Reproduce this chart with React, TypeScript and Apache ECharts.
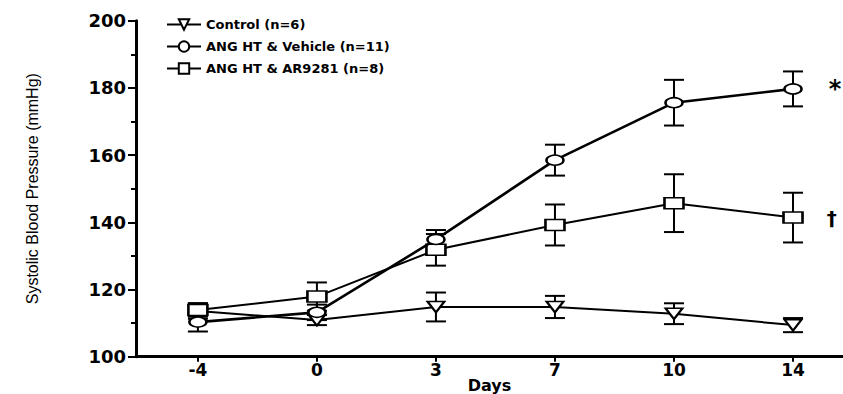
import React, { useEffect, useRef } from "react";
import * as echarts from "echarts";

const categories = ["-4", "0", "3", "7", "10", "14"];
const seriesNames = ["Control (n=6)", "ANG HT & Vehicle (n=11)", "ANG HT & AR9281 (n=8)"];
const controlMean = [113.6, 110.9, 114.8, 114.8, 112.8, 109.4];
const controlSem = [2.3, 1.5, 4.3, 3.3, 3.1, 2.1];
const vehicleMean = [110.3, 113.2, 134.9, 158.5, 175.6, 179.7];
const vehicleSem = [2.8, 2.3, 2.8, 4.6, 6.8, 5.2];
const ar9281Mean = [113.9, 117.9, 131.8, 139.2, 145.7, 141.4];
const ar9281Sem = [2.0, 4.2, 4.7, 6.1, 8.6, 7.4];
const markers = ["*", "", "†"];
const yTicks = { min: 100, max: 200, interval: 20 };

const BLACK = "#000";

function errorSeries(mean: number[], sem: number[]) {
  return {
    type: "custom",
    silent: true,
    z: 1,
    renderItem: (params: any, api: any) => {
      const x = api.value(0);
      const lo = api.value(1);
      const hi = api.value(2);
      const top = api.coord([x, hi]);
      const bot = api.coord([x, lo]);
      const hw = 10;
      const style = { stroke: BLACK, lineWidth: 2 };
      return {
        type: "group",
        children: [
          { type: "line", shape: { x1: top[0], y1: top[1], x2: bot[0], y2: bot[1] }, style },
          { type: "line", shape: { x1: top[0] - hw, y1: top[1], x2: top[0] + hw, y2: top[1] }, style },
          { type: "line", shape: { x1: bot[0] - hw, y1: bot[1], x2: bot[0] + hw, y2: bot[1] }, style },
        ],
      };
    },
    encode: { x: 0, y: [1, 2] },
    data: mean.map((m, i) => [i, m - sem[i], m + sem[i]]),
  };
}

function lineData(mean: number[], mark: string, fontSize: number, distance: number) {
  return mean.map((v, i) => {
    if (i === mean.length - 1 && mark) {
      return {
        value: [i, v],
        label: {
          show: true,
          position: "right",
          distance,
          formatter: mark,
          color: BLACK,
          fontSize,
          fontWeight: "bold",
          fontFamily: "DejaVu Sans, sans-serif",
        },
      };
    }
    return [i, v];
  });
}

export default function App() {
  const ref = useRef<HTMLDivElement>(null);

  useEffect(() => {
    if (!ref.current) return;
    const chart = echarts.init(ref.current, undefined, { renderer: "svg" });
    const tickVals = categories.map((_, i) => i);
    const itemStyle = { color: "#fff", borderColor: BLACK, borderWidth: 2 };

    chart.setOption({
      animation: false,
      backgroundColor: "#fff",
      grid: { left: 136, right: 0, top: 20.7, bottom: 37.3, containLabel: false, outerBoundsMode: "none" },
      legend: {
        data: seriesNames,
        orient: "vertical",
        left: 161,
        top: 13,
        itemWidth: 34,
        itemHeight: 13,
        itemGap: 9,
        selectedMode: false,
        textStyle: {
          color: BLACK,
          fontSize: 13,
          fontWeight: "bold",
          fontFamily: "DejaVu Sans, sans-serif",
        },
      },
      xAxis: {
        type: "value",
        min: -0.52,
        max: 5.42,
        name: "Days",
        nameLocation: "middle",
        nameGap: 21,
        nameMoveOverlap: false,
        nameTextStyle: {
          color: BLACK,
          fontSize: 16,
          lineHeight: 15,
          fontWeight: "bold",
          fontFamily: "DejaVu Sans, sans-serif",
        },
        axisLine: { show: true, onZero: false, lineStyle: { color: BLACK, width: 3 } },
        axisTick: { show: true, customValues: tickVals, length: 5, lineStyle: { color: BLACK, width: 2 } },
        axisLabel: {
          customValues: tickVals,
          formatter: (v: number) => categories[Math.round(v)] ?? "",
          color: BLACK,
          fontSize: 17,
          fontWeight: "bold",
          fontFamily: "DejaVu Sans, sans-serif",
          margin: 5,
        },
        splitLine: { show: false },
      },
      yAxis: {
        type: "value",
        min: yTicks.min,
        max: yTicks.max,
        interval: yTicks.interval,
        name: "Systolic Blood Pressure (mmHg)",
        nameLocation: "middle",
        nameGap: 96,
        nameRotate: 90,
        nameMoveOverlap: false,
        nameTextStyle: {
          color: BLACK,
          fontSize: 16,
          fontFamily: "Liberation Sans Narrow, Arial Narrow, Liberation Sans, sans-serif",
        },
        axisLine: { show: true, onZero: false, lineStyle: { color: BLACK, width: 3 } },
        axisTick: { show: true, length: 8, lineStyle: { color: BLACK, width: 2 } },
        minorTick: { show: true, splitNumber: 2, length: 5, lineStyle: { color: BLACK, width: 2 } },
        axisLabel: {
          color: BLACK,
          fontSize: 18,
          fontWeight: "bold",
          fontFamily: "DejaVu Sans, sans-serif",
          margin: 10,
        },
        splitLine: { show: false },
      },
      series: [
        errorSeries(controlMean, controlSem),
        errorSeries(vehicleMean, vehicleSem),
        errorSeries(ar9281Mean, ar9281Sem),
        {
          name: seriesNames[0],
          type: "line",
          z: 3,
          data: lineData(controlMean, markers[1], 20, 25),
          symbol: "triangle",
          symbolRotate: 180,
          symbolSize: [17, 11],
          lineStyle: { color: BLACK, width: 2 },
          itemStyle,
        },
        {
          name: seriesNames[1],
          type: "line",
          z: 4,
          data: lineData(vehicleMean, markers[0], 24, 26),
          symbol: "circle",
          symbolSize: [17, 10],
          lineStyle: { color: BLACK, width: 2.6 },
          itemStyle,
        },
        {
          name: seriesNames[2],
          type: "line",
          z: 3,
          data: lineData(ar9281Mean, markers[2], 20, 23),
          symbol: "rect",
          symbolSize: [19, 11],
          lineStyle: { color: BLACK, width: 2 },
          itemStyle,
        },
      ],
    });

    return () => chart.dispose();
  }, []);

  return (
    <div
      ref={ref}
      style={{ position: "fixed", left: 0, top: 0, width: 843, height: 394, background: "#fff" }}
    />
  );
}
